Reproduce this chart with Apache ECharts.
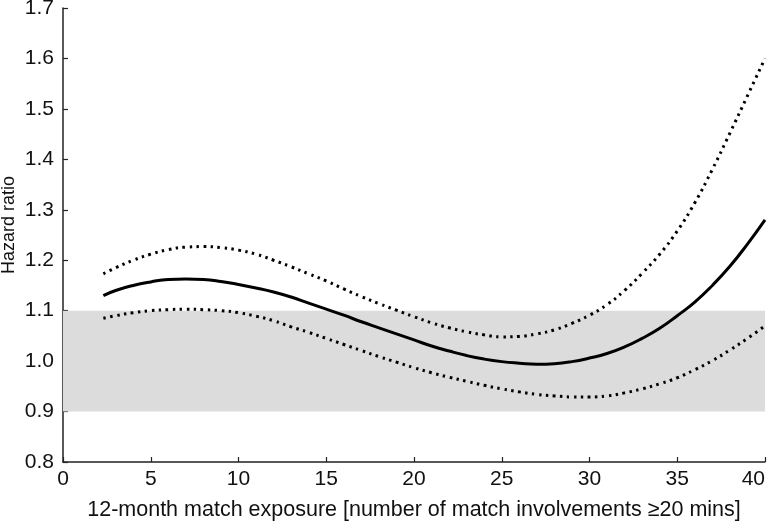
<!DOCTYPE html>
<html>
<head>
<meta charset="utf-8">
<script src="https://cdn.jsdelivr.net/npm/echarts@6/dist/echarts.min.js"></script>
<style>
  html, body { margin: 0; padding: 0; background: #fff; }
  #main { width: 774px; height: 522px; }
</style>
</head>
<body>
<div id="main"></div>
<script>
// exposure values (x)
var exposure = [2.3, 3, 4, 5, 6, 7, 8, 9, 10, 11, 12, 13, 14, 15, 16, 17, 18, 19, 20,
    21, 22, 23, 24, 25, 26, 27, 28, 29, 30, 31, 32, 33, 34, 35, 36, 37, 38, 39, 40];
// hazard ratio (solid)
var hazard = [1.130, 1.140, 1.150, 1.157, 1.162, 1.163, 1.162, 1.158, 1.152, 1.145, 1.137, 1.127, 1.115,
    1.103, 1.091, 1.078, 1.066, 1.054, 1.042, 1.030, 1.020, 1.011, 1.004, 0.999, 0.996, 0.994, 0.995,
    0.999, 1.006, 1.015, 1.028, 1.045, 1.065, 1.090, 1.117, 1.150, 1.188, 1.232, 1.280];
// upper 95% limit (dotted)
var upper = [1.173, 1.185, 1.200, 1.212, 1.221, 1.226, 1.227, 1.225, 1.220, 1.212, 1.200, 1.187, 1.173,
    1.159, 1.143, 1.128, 1.114, 1.101, 1.088, 1.076, 1.066, 1.058, 1.052, 1.048, 1.049, 1.054, 1.062,
    1.075, 1.091, 1.112, 1.140, 1.174, 1.212, 1.258, 1.314, 1.380, 1.452, 1.526, 1.600];
// lower 95% limit (dotted)
var lower = [1.085, 1.090, 1.096, 1.100, 1.102, 1.103, 1.102, 1.100, 1.096, 1.089, 1.080, 1.068, 1.057,
    1.045, 1.033, 1.021, 1.009, 0.998, 0.987, 0.977, 0.968, 0.960, 0.952, 0.945, 0.939, 0.934, 0.931,
    0.929, 0.929, 0.931, 0.937, 0.945, 0.955, 0.967, 0.983, 1.001, 1.022, 1.045, 1.070];
// grey reference band
var band = [0.9, 1.1];
var xTicks = [0, 5, 10, 15, 20, 25, 30, 35, 40];
var yTicks = [0.8, 0.9, 1.0, 1.1, 1.2, 1.3, 1.4, 1.5, 1.6, 1.7];

function pairs(ys) {
    return exposure.map(function (x, i) { return [x, ys[i]]; });
}

var font = 'Liberation Sans, Arial, sans-serif';
var axisLine = { show: true, lineStyle: { color: '#222', width: 1.5 } };
var axisTick = { show: true, inside: true, length: 5, lineStyle: { color: '#222', width: 1.2 } };

var myChart = echarts.init(document.getElementById('main'));
myChart.setOption({
    animation: false,
    grid: { left: 63, right: 9, top: 8, bottom: 60, containLabel: false, outerBoundsMode: 'none' },
    xAxis: {
        type: 'value',
        min: xTicks[0],
        max: xTicks[xTicks.length - 1],
        interval: 5,
        name: '12-month match exposure [number of match involvements \u226520 mins]',
        nameLocation: 'middle',
        nameGap: 37,
        nameMoveOverlap: false,
        nameTextStyle: { fontFamily: font, fontSize: 21.5, color: '#111' },
        axisLine: axisLine,
        axisTick: axisTick,
        splitLine: { show: false },
        axisLabel: { fontFamily: font, fontSize: 21, color: '#111', margin: 7, alignMaxLabel: 'right' }
    },
    yAxis: {
        type: 'value',
        min: yTicks[0],
        max: yTicks[yTicks.length - 1],
        interval: 0.1,
        name: 'Hazard ratio',
        nameLocation: 'middle',
        nameGap: 45,
        nameMoveOverlap: false,
        nameTextStyle: { fontFamily: font, fontSize: 18, color: '#111', padding: [0, 0, 0, 20] },
        axisLine: axisLine,
        axisTick: axisTick,
        splitLine: { show: false },
        axisLabel: {
            fontFamily: font, fontSize: 21, color: '#111', margin: 9,
            formatter: function (v) { return v.toFixed(1); }
        }
    },
    series: [
        {
            name: 'band',
            type: 'line',
            data: [],
            silent: true,
            markArea: {
                silent: true,
                itemStyle: { color: '#dcdcdc' },
                data: [[{ yAxis: band[0], xAxis: xTicks[0] }, { yAxis: band[1], xAxis: xTicks[xTicks.length - 1] }]]
            },
            z: 1
        },
        {
            name: 'upper',
            type: 'line',
            data: pairs(upper),
            smooth: true,
            showSymbol: false,
            lineStyle: { color: '#000', width: 3, type: [2.5, 4.5] },
            z: 3
        },
        {
            name: 'lower',
            type: 'line',
            data: pairs(lower),
            smooth: true,
            showSymbol: false,
            lineStyle: { color: '#000', width: 3, type: [2.5, 4.5] },
            z: 3
        },
        {
            name: 'Hazard ratio',
            type: 'line',
            data: pairs(hazard),
            smooth: true,
            showSymbol: false,
            lineStyle: { color: '#000', width: 3 },
            z: 4
        }
    ]
});
</script>
</body>
</html>
